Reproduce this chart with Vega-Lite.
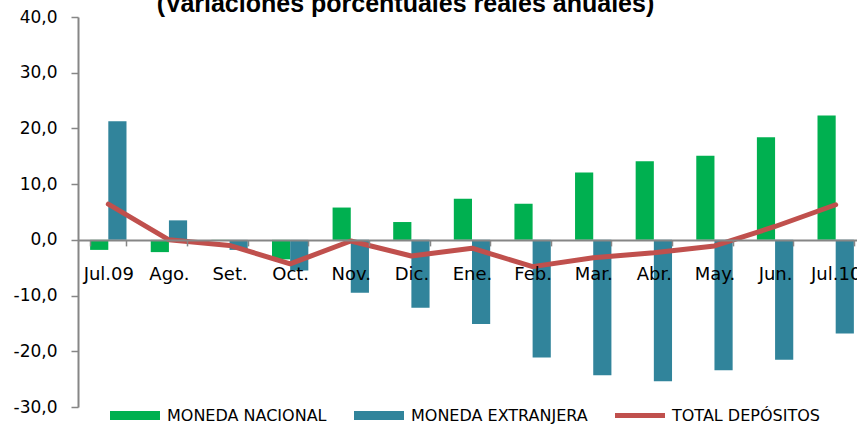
{
  "$schema": "https://vega.github.io/schema/vega-lite/v6.json",
  "autosize": {"type": "none"},
  "padding": {"left": 78, "top": 17, "right": 0, "bottom": 20},
  "width": 779,
  "height": 390,
  "title": {
    "text": "(Variaciones porcentuales reales anuales)",
    "font": "Liberation Sans",
    "fontSize": 25,
    "fontWeight": "bold",
    "color": "#000000",
    "anchor": "middle",
    "frame": "group",
    "baseline": "alphabetic",
    "offset": 5,
    "dx": -62,
    "dy": 34
  },
  "data": {
    "values": [
      {"mes": "Jul.09", "serie": "MONEDA NACIONAL", "valor": -1.8},
      {"mes": "Jul.09", "serie": "MONEDA EXTRANJERA", "valor": 21.3},
      {"mes": "Jul.09", "serie": "TOTAL DEPÓSITOS", "valor": 6.4},
      {"mes": "Ago.", "serie": "MONEDA NACIONAL", "valor": -2.2},
      {"mes": "Ago.", "serie": "MONEDA EXTRANJERA", "valor": 3.5},
      {"mes": "Ago.", "serie": "TOTAL DEPÓSITOS", "valor": 0.0},
      {"mes": "Set.", "serie": "MONEDA NACIONAL", "valor": -0.1},
      {"mes": "Set.", "serie": "MONEDA EXTRANJERA", "valor": -1.8},
      {"mes": "Set.", "serie": "TOTAL DEPÓSITOS", "valor": -1.0},
      {"mes": "Oct.", "serie": "MONEDA NACIONAL", "valor": -3.5},
      {"mes": "Oct.", "serie": "MONEDA EXTRANJERA", "valor": -5.5},
      {"mes": "Oct.", "serie": "TOTAL DEPÓSITOS", "valor": -4.3},
      {"mes": "Nov.", "serie": "MONEDA NACIONAL", "valor": 5.8},
      {"mes": "Nov.", "serie": "MONEDA EXTRANJERA", "valor": -9.5},
      {"mes": "Nov.", "serie": "TOTAL DEPÓSITOS", "valor": -0.2},
      {"mes": "Dic.", "serie": "MONEDA NACIONAL", "valor": 3.2},
      {"mes": "Dic.", "serie": "MONEDA EXTRANJERA", "valor": -12.2},
      {"mes": "Dic.", "serie": "TOTAL DEPÓSITOS", "valor": -2.9},
      {"mes": "Ene.", "serie": "MONEDA NACIONAL", "valor": 7.4},
      {"mes": "Ene.", "serie": "MONEDA EXTRANJERA", "valor": -15.1},
      {"mes": "Ene.", "serie": "TOTAL DEPÓSITOS", "valor": -1.5},
      {"mes": "Feb.", "serie": "MONEDA NACIONAL", "valor": 6.5},
      {"mes": "Feb.", "serie": "MONEDA EXTRANJERA", "valor": -21.1},
      {"mes": "Feb.", "serie": "TOTAL DEPÓSITOS", "valor": -4.8},
      {"mes": "Mar.", "serie": "MONEDA NACIONAL", "valor": 12.1},
      {"mes": "Mar.", "serie": "MONEDA EXTRANJERA", "valor": -24.3},
      {"mes": "Mar.", "serie": "TOTAL DEPÓSITOS", "valor": -3.2},
      {"mes": "Abr.", "serie": "MONEDA NACIONAL", "valor": 14.1},
      {"mes": "Abr.", "serie": "MONEDA EXTRANJERA", "valor": -25.4},
      {"mes": "Abr.", "serie": "TOTAL DEPÓSITOS", "valor": -2.3},
      {"mes": "May.", "serie": "MONEDA NACIONAL", "valor": 15.1},
      {"mes": "May.", "serie": "MONEDA EXTRANJERA", "valor": -23.4},
      {"mes": "May.", "serie": "TOTAL DEPÓSITOS", "valor": -1.1},
      {"mes": "Jun.", "serie": "MONEDA NACIONAL", "valor": 18.4},
      {"mes": "Jun.", "serie": "MONEDA EXTRANJERA", "valor": -21.5},
      {"mes": "Jun.", "serie": "TOTAL DEPÓSITOS", "valor": 2.4},
      {"mes": "Jul.10", "serie": "MONEDA NACIONAL", "valor": 22.3},
      {"mes": "Jul.10", "serie": "MONEDA EXTRANJERA", "valor": -16.8},
      {"mes": "Jul.10", "serie": "TOTAL DEPÓSITOS", "valor": 6.3}
    ]
  },
  "encoding": {
    "x": {
      "field": "mes",
      "type": "nominal",
      "sort": ["Jul.09", "Ago.", "Set.", "Oct.", "Nov.", "Dic.", "Ene.", "Feb.", "Mar.", "Abr.", "May.", "Jun.", "Jul.10"],
      "scale": {"range": [0, 788], "paddingInner": 0.4, "paddingOuter": 0.2},
      "axis": {
        "title": null,
        "orient": "bottom",
        "offset": -167.1,
        "zindex": 1,
        "labelAngle": 0,
        "labelFont": "DejaVu Sans",
        "labelFontSize": 18,
        "labelColor": "#000000",
        "labelBaseline": "alphabetic",
        "labelPadding": 34,
        "labelOverlap": false,
        "tickBand": "extent",
        "tickSize": 6,
        "tickColor": "#868686",
        "tickWidth": 1.5,
        "domainColor": "#868686",
        "domainWidth": 2,
        "grid": false
      }
    },
    "y": {
      "field": "valor",
      "type": "quantitative",
      "scale": {"domain": [-30, 40], "nice": false},
      "axis": {
        "title": null,
        "values": [-30, -20, -10, 0, 10, 20, 30, 40],
        "labelExpr": "replace((datum.value < 0 ? '-' : '') + format(abs(datum.value), '.1f'), '.', ',')",
        "labelFont": "DejaVu Sans",
        "labelFontSize": 17,
        "labelColor": "#000000",
        "labelPadding": 14,
        "tickSize": 7,
        "tickColor": "#868686",
        "tickWidth": 1.5,
        "domainColor": "#868686",
        "domainWidth": 2,
        "grid": false
      }
    },
    "color": {
      "field": "serie",
      "type": "nominal",
      "scale": {
        "domain": ["MONEDA NACIONAL", "MONEDA EXTRANJERA", "TOTAL DEPÓSITOS"],
        "range": ["#00B050", "#31849B", "#C0504D"]
      },
      "legend": {
        "title": null,
        "orient": "none",
        "legendX": 32,
        "legendY": 373.5,
        "direction": "horizontal",
        "columns": 3,
        "padding": 0,
        "columnPadding": 27,
        "symbolSize": 2500,
        "labelOffset": 7,
        "labelLimit": 400,
        "labelFont": "DejaVu Sans",
        "labelFontSize": 16,
        "labelColor": "#000000",
        "encode": {
          "symbols": {
            "update": {
              "shape": {"signal": "datum.value === 'TOTAL DEPÓSITOS' ? 'M-1,-0.1H1V0.1H-1Z' : 'M-1,-0.18H1V0.18H-1Z'"},
              "fill": {"signal": "scale('color', datum.value)"},
              "stroke": {"signal": "scale('color', datum.value)"},
              "strokeWidth": {"value": 0},
              "opacity": {"value": 1},
              "fillOpacity": {"value": 1}
            }
          }
        }
      }
    }
  },
  "layer": [
    {
      "transform": [{"filter": "datum.serie !== 'TOTAL DEPÓSITOS'"}],
      "mark": {"type": "bar", "opacity": 1},
      "encoding": {
        "xOffset": {
          "field": "serie",
          "type": "nominal",
          "sort": ["MONEDA NACIONAL", "MONEDA EXTRANJERA"],
          "scale": {"paddingInner": 0, "paddingOuter": 0}
        }
      }
    },
    {
      "transform": [{"filter": "datum.serie === 'TOTAL DEPÓSITOS'"}],
      "mark": {"type": "line", "strokeWidth": 5, "strokeCap": "round", "strokeJoin": "round"},
      "encoding": {}
    }
  ],
  "config": {
    "view": {"stroke": null}
  }
}
